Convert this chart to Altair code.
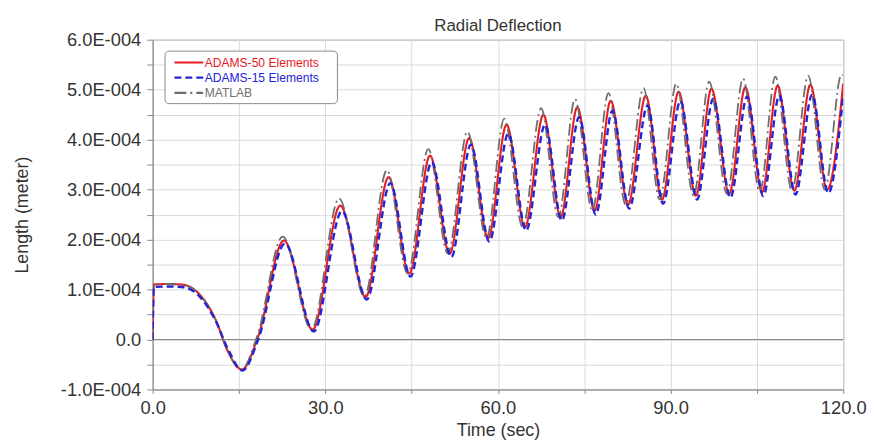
import altair as alt
import pandas as pd

series_names = ["ADAMS-50 Elements", "ADAMS-15 Elements", "MATLAB"]
series_colors = ["#e61a1f", "#2323d8", "#6e6e6e"]
series_dash = [[1, 0], [7, 4], [12, 4, 2, 4]]
series_width = [2.1, 2.4, 1.8]

# Time (sec) of start-up samples, then alternating troughs / peaks
t_adams50 = [0, 0.2, 2.5, 5.0, 8.0, 11.0, 13.0, 15.5, 18.3, 22.8, 27.8, 32.6, 37.0, 41.0, 44.6, 48.2,
             51.6, 55.0, 58.3, 61.5, 64.7, 67.9, 70.9, 73.8, 76.8, 79.6, 82.6, 85.7, 88.5, 91.4,
             94.4, 97.1, 100.2, 103.0, 105.9, 108.6, 111.5, 114.3, 117.2, 120.0]
# Length in units of 1E-004 m
v_adams50 = [0, 1.10, 1.11, 1.10, 0.92, 0.38, -0.22, -0.60, 0.05, 1.98, 0.20, 2.68, 0.85, 3.25, 1.32, 3.68,
             1.72, 4.03, 2.03, 4.30, 2.25, 4.50, 2.45, 4.65, 2.58, 4.78, 2.70, 4.88, 2.80, 4.96,
             2.88, 5.02, 2.92, 5.05, 2.95, 5.08, 2.98, 5.10, 3.00, 5.12]

t_adams15 = [0, 0.2, 2.5, 5.0, 8.0, 11.0, 13.2, 15.6, 18.4, 23.0, 28.0, 32.9, 37.2, 41.3, 44.8, 48.5,
             51.9, 55.3, 58.5, 61.8, 64.9, 68.2, 71.1, 74.1, 77.0, 79.9, 82.8, 86.0, 88.7, 91.7,
             94.6, 97.4, 100.4, 103.3, 106.1, 108.9, 111.7, 114.6, 117.4, 120.0]
v_adams15 = [0, 1.05, 1.06, 1.05, 0.88, 0.36, -0.22, -0.62, 0.02, 1.92, 0.16, 2.57, 0.80, 3.13, 1.26, 3.55,
             1.65, 3.90, 1.96, 4.12, 2.18, 4.30, 2.38, 4.45, 2.50, 4.58, 2.62, 4.68, 2.72, 4.77,
             2.80, 4.82, 2.84, 4.86, 2.87, 4.88, 2.90, 4.90, 2.93, 4.90]

t_matlab = [0, 0.2, 2.5, 5.0, 8.0, 11.0, 13.0, 15.4, 18.2, 22.6, 27.6, 32.4, 36.8, 40.7, 44.3, 47.9,
            51.3, 54.7, 58.0, 61.1, 64.3, 67.5, 70.5, 73.4, 76.4, 79.2, 82.2, 85.3, 88.1, 91.0,
            94.0, 96.7, 99.8, 102.6, 105.5, 108.2, 111.1, 113.9, 116.8, 119.7, 120.0]
v_matlab = [0, 1.10, 1.11, 1.10, 0.92, 0.38, -0.22, -0.60, 0.08, 2.06, 0.20, 2.82, 0.86, 3.39, 1.32, 3.81,
            1.72, 4.16, 2.03, 4.42, 2.25, 4.63, 2.45, 4.81, 2.58, 4.93, 2.70, 5.03, 2.80, 5.12,
            2.88, 5.16, 2.92, 5.22, 2.95, 5.26, 2.98, 5.28, 3.00, 5.30, 5.29]

x_ticks = [0, 15, 30, 45, 60, 75, 90, 105, 120]
y_ticks_e4 = [-1.0, -0.5, 0.0, 0.5, 1.0, 1.5, 2.0, 2.5, 3.0, 3.5, 4.0, 4.5, 5.0, 5.5, 6.0]

FONT = "Liberation Sans"
TXT = "#333333"

all_t = [t_adams50, t_adams15, t_matlab]
all_v = [v_adams50, v_adams15, v_matlab]

xscale = alt.Scale(domain=[0, 120], nice=False, zero=False)
yscale = alt.Scale(domain=[-1.0 / 1e4, 6.0 / 1e4], nice=False, zero=False)

xaxis = alt.Axis(values=x_ticks, title="Time (sec)", grid=True, tickSize=4, labelPadding=5,
                 labelExpr="datum.value % 30 == 0 ? format(datum.value, '.1f') : ''",
                 labelFlush=False, titlePadding=5)
yaxis = alt.Axis(values=[v / 1e4 for v in y_ticks_e4], title="Length (meter)", grid=True,
                 tickSize=6, labelPadding=6, titlePadding=29,
                 labelExpr="round(datum.value*1e5) % 10 != 0 ? '' : (round(datum.value*1e5) == 0 ? '0.0' : "
                           "(datum.value < 0 ? '-' : '') + format(abs(round(datum.value*1e5))/10, '.1f') + 'E-004')")

zero = alt.Chart(pd.DataFrame({"t": [0.0, 120.0], "v": [0.0, 0.0]})).mark_line(
    color="#8a8a8a", strokeWidth=1.2
).encode(x=alt.X("t:Q", scale=xscale, axis=xaxis), y=alt.Y("v:Q", scale=yscale, axis=yaxis))

layers = [zero]
order = [0, 2, 1]
for i in order:
    df = pd.DataFrame({"t": all_t[i], "v": [v / 1e4 for v in all_v[i]]})
    layers.append(
        alt.Chart(df).mark_line(
            interpolate="monotone", color=series_colors[i], strokeWidth=series_width[i],
            strokeDash=series_dash[i], clip=True
        ).encode(
            x=alt.X("t:Q", scale=xscale, axis=xaxis),
            y=alt.Y("v:Q", scale=yscale, axis=yaxis),
        )
    )

# legend box (manual)
one = pd.DataFrame({"a": [0]})
layers.append(
    alt.Chart(one).mark_rect(fill="white", stroke="#8a8a8a", strokeWidth=1, cornerRadius=4).encode(
        x=alt.value(12.5), x2=alt.value(186.5), y=alt.value(11.5), y2=alt.value(64.5)
    )
)
row_y = [23.0, 38.3, 53.6]
for i, name in enumerate(series_names):
    layers.append(
        alt.Chart(one).mark_rule(color=series_colors[i], strokeWidth=2.2,
                                 strokeDash=series_dash[i]).encode(
            x=alt.value(22), x2=alt.value(51), y=alt.value(row_y[i])
        )
    )
    layers.append(
        alt.Chart(one).mark_text(align="left", baseline="middle", font=FONT, fontSize=12.2,
                                 color=series_colors[i] if i < 2 else "#707070").encode(
            x=alt.value(52.5), y=alt.value(row_y[i] + 0.5), text=alt.value(name)
        )
    )

chart = alt.layer(*layers).properties(
    width=697, height=353,
    title=alt.TitleParams("Radial Deflection", anchor="middle", frame="group", font=FONT, fontSize=17,
                          fontWeight="normal", color=TXT, offset=-4),
    autosize=alt.AutoSizeParams(type="none"),
    padding={"left": 146, "top": 30, "right": 24, "bottom": 50},
).configure_view(
    stroke="#8a8a8a", strokeWidth=1
).configure_axis(
    domainColor="#8a8a8a", tickColor="#8a8a8a", gridColor="#dadada", gridWidth=1,
    labelFont=FONT, labelFontSize=18.5, labelColor=TXT,
    titleFont=FONT, titleFontSize=18, titleFontWeight="normal", titleColor=TXT,
)

chart.save("out.html", embed_options={"renderer": "svg", "actions": False})
